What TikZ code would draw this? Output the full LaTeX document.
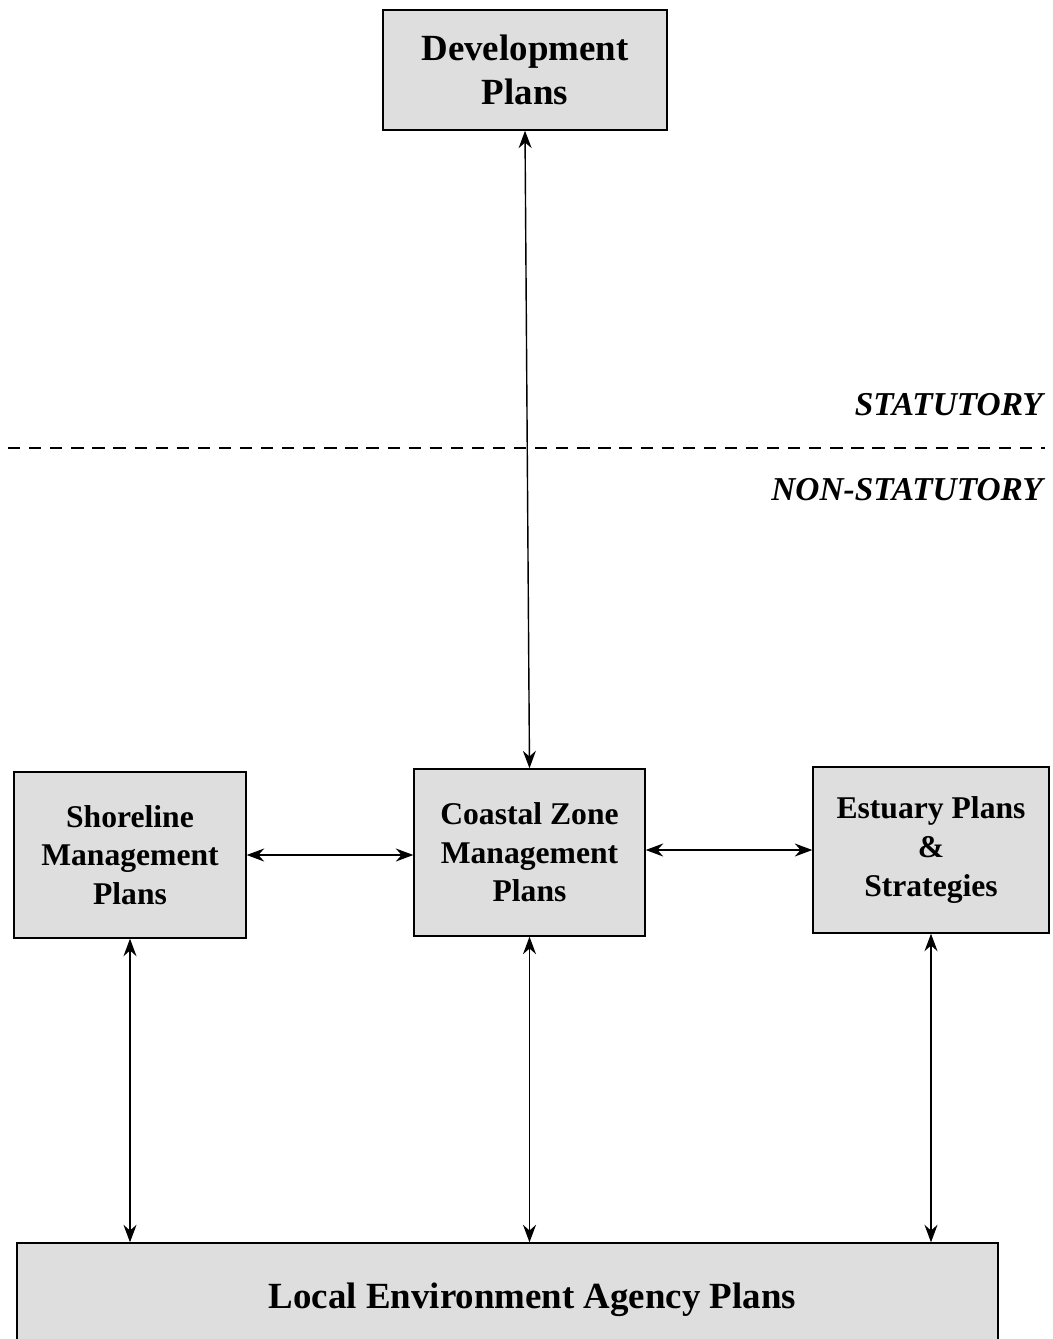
\documentclass[tikz,border=0pt]{standalone}
\usepackage{fontspec}
\setmainfont{Liberation Serif}
\usetikzlibrary{arrows.meta}
\tikzset{
  planbox/.style={draw=black, fill=black!13, thick, align=center, inner sep=0pt,
    font=\fontsize{18}{22}\selectfont\bfseries},
  link/.style={{Stealth[length=3.5mm,width=2.6mm]}-{Stealth[length=3.5mm,width=2.6mm]}, thick},
}
\begin{document}
\begin{tikzpicture}[x=0.02cm, y=-0.02cm]
\useasboundingbox (0,0) rectangle (1053,1339);
\clip (0,0) rectangle (1053,1339);
\node[planbox, minimum width=5.68cm, minimum height=2.4cm, font=\fontsize{21}{25}\selectfont\bfseries] (dev) at (525,70) {Development\\Plans};
\node[planbox, minimum width=4.64cm, minimum height=3.32cm] (smp) at (130,855) {Shoreline\\Management\\Plans};
\node[planbox, minimum width=4.62cm, minimum height=3.34cm] (czm) at (529.5,852.5) {Coastal Zone\\Management\\Plans};
\node[planbox, minimum width=4.72cm, minimum height=3.32cm] (est) at (931,850) {Estuary Plans\\\&\\Strategies};
\node[planbox, minimum width=19.62cm, minimum height=2.28cm, font=\fontsize{21}{25}\selectfont\bfseries] (leap) at (507.5,1300) {\hspace*{1cm}Local Environment Agency Plans};
% statutory boundary
\draw[line width=1.6pt, dash pattern=on 7pt off 5pt] (8,448) -- (1045,448);
\node[anchor=base east, font=\fontsize{19}{23}\selectfont\bfseries\itshape] (stat) at (1049,415) {STATUTORY};
\node[anchor=base east, font=\fontsize{19}{23}\selectfont\bfseries\itshape] (nonstat) at (1049,500) {NON-STATUTORY};
% links
\draw[link] (dev.south) -- (czm.north);
\draw[link] (smp.east) -- (czm.west |- smp.east);
\draw[link] (czm.east |- est.west) -- (est.west);
\draw[link] (smp.south) -- (smp.south |- leap.north);
\draw[link] (czm.south) -- (czm.south |- leap.north);
\draw[link] (est.south) -- (est.south |- leap.north);
\end{tikzpicture}
\end{document}
